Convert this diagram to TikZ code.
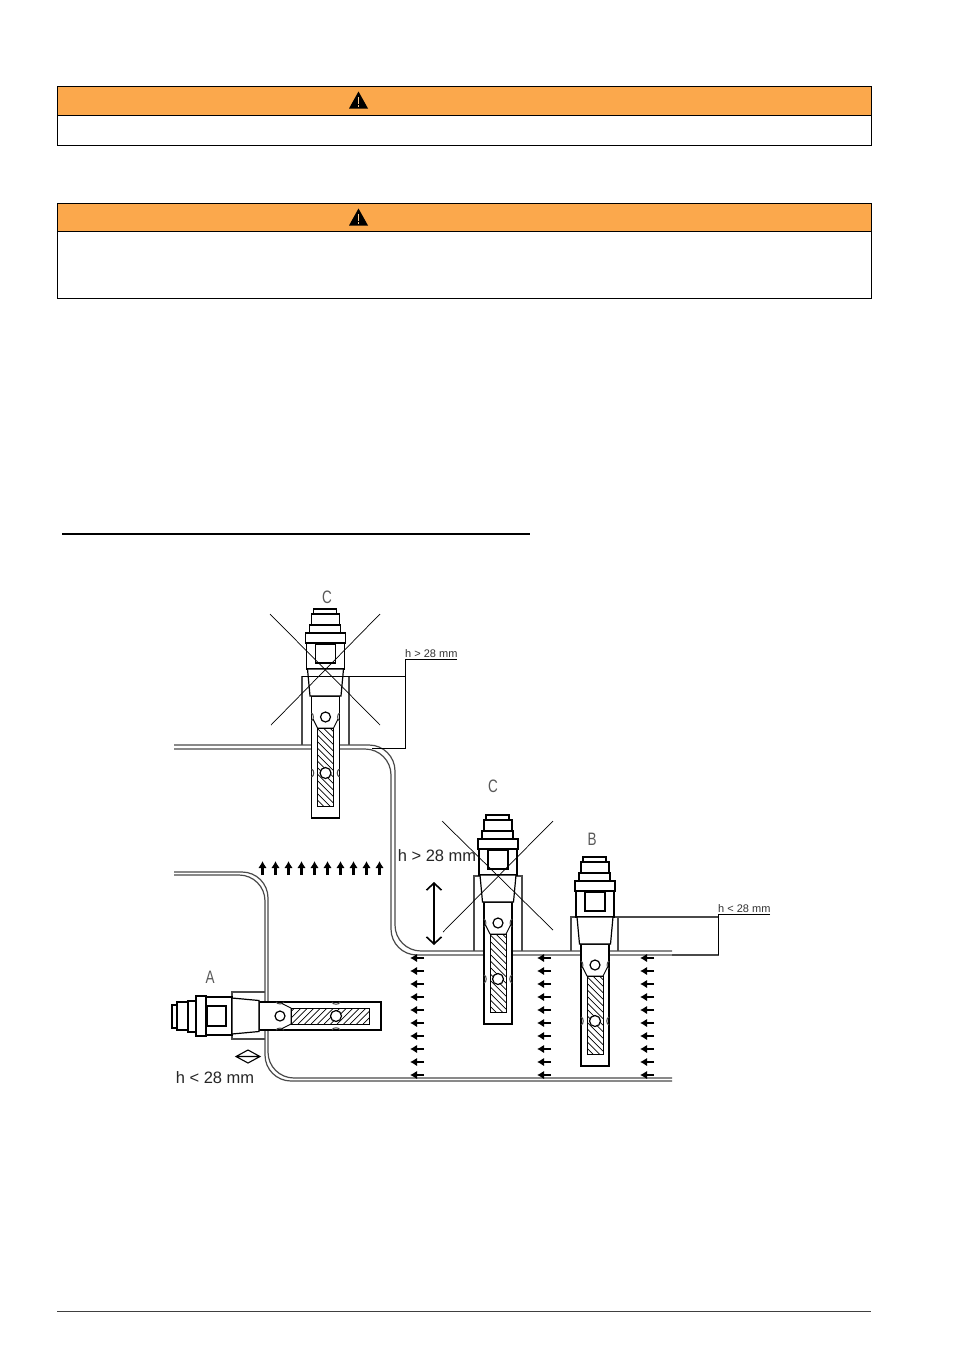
\documentclass[tikz,border=0pt]{standalone}
\usepackage{fontspec}
\setmainfont{Liberation Sans}
\usetikzlibrary{arrows.meta}
\definecolor{warnorange}{HTML}{FBA84C}
\definecolor{linegray}{HTML}{4A4A4A}
\tikzset{
  warnbox/.style={draw=black,line width=1pt},
  warnhead/.style={draw=black,line width=1pt,fill=warnorange},
  pipeline/.style={draw=linegray,line width=1.2pt,rounded corners=26pt},
  part/.style={draw=black,line width=1.2pt,fill=white},
  notch/.style={draw=linegray,line width=1pt},
  flangeline/.style={draw=linegray,line width=1.4pt},
  crossline/.style={draw=black,line width=.7pt},
  dimline/.style={draw=black,line width=.9pt},
  flowarrow/.style={draw=black,line width=2.4pt,-{Latex[length=7pt,width=8.5pt]}},
  biglabel/.style={inner sep=0pt,font=\fontsize{16.5}{19}\selectfont,text=black!85},
  letterlabel/.style={inner sep=0pt,font=\fontsize{18}{20}\selectfont,text=black!65},
  smalllabel/.style={inner sep=0pt,font=\fontsize{11}{13}\selectfont,text=black!80,anchor=base west},
}
\newcommand{\warntri}[2]{%
  \fill[black] (#1-9.5,#2+8.5) -- (#1,#2-8.5) -- (#1+9.5,#2+8.5) -- cycle;
  \fill[warnorange!60!white] (#1-.9,#2-3) rectangle (#1+.9,#2+3.5);
  \fill[warnorange!60!white] (#1-.9,#2+4.8) rectangle (#1+.9,#2+6.6);
}
\newcommand{\probeparts}{%
  \draw[part] (-12,-60) rectangle (11,-55);
  \draw[part] (-14,-55) rectangle (14,-44);
  \draw[part] (-16,-44) rectangle (15,-36);
  \draw[part] (-19,-26) rectangle (19,0);
  \draw[part] (-20,-36) rectangle (20,-26);
  \draw[part] (-10,-25) rectangle (10,-6);
  \draw[part] (-14,27) rectangle (14,149);
  \draw[part] (-18,0) -- (18,0) -- (15.5,27) -- (-15.5,27) -- cycle;
  \draw[notch] (-14,44) .. controls (-11.5,45) and (-11.5,51) .. (-14,52);
  \draw[notch] (14,44) .. controls (11.5,45) and (11.5,51) .. (14,52);
  \draw[notch] (-14,100) .. controls (-11,101) and (-11,107) .. (-14,108);
  \draw[notch] (14,100) .. controls (11,101) and (11,107) .. (14,108);
  \draw[black,line width=.9pt] (-12.5,50) -- (-8,59) -- (8,59) -- (12.5,50);
  \begin{scope}
    \clip (-8,59) rectangle (8,137);
    \foreach \k in {40,46.5,...,140} {\draw[black,line width=.7pt] (-8,\k) -- (8,\k+16);}
  \end{scope}
  \draw[black,line width=1pt] (-8,59) rectangle (8,137);
  \draw[part] (0,48) circle [radius=5];
  \draw[part] (0,104) circle [radius=5.5];
}
\begin{document}
\begin{tikzpicture}[x=1pt,y=-1pt]
\useasboundingbox (0,0) rectangle (953,1352);
\fill[white] (0,0) rectangle (953,1352);

% warning boxes
\draw[warnbox] (57,86) rectangle (871,145);
\draw[warnhead] (57,86) rectangle (871,115);
\warntri{358.5}{100}
\draw[warnbox] (57,203) rectangle (871,298);
\draw[warnhead] (57,203) rectangle (871,231.5);
\warntri{358.5}{217}

% heading rule and footer rule
\draw[black,line width=1.5pt] (62,534) -- (530,534);
\draw[black!75,line width=.8pt] (57,1311) -- (871,1311);

% pipes
\draw[pipeline] (174,745) -- (395,745) -- (395,951) -- (672,951);
\draw[pipeline] (174,749) -- (391,749) -- (391,955) -- (672,955);
\draw[pipeline] (174,872) -- (268,872) -- (268,1078) -- (672,1078);
\draw[pipeline] (174,875) -- (265,875) -- (265,1081) -- (672,1081);

% flanges
\draw[flangeline] (302,745) -- (302,676);
\draw[flangeline] (349,676) -- (349,745);
\draw[flangeline] (474,951) -- (474,876) -- (522,876) -- (522,951);
\draw[flangeline] (571,951) -- (571,917) -- (618,917) -- (618,951);
\draw[flangeline] (265,992) -- (232,992) -- (232,1039) -- (265,1039);

% probes
\begin{scope}[shift={(325.5,669)}]\begin{scope}[x=1pt,y=-1pt]\probeparts\end{scope}\end{scope}
\begin{scope}[shift={(498,875)}]\begin{scope}[x=1pt,y=-1pt]\probeparts\end{scope}\end{scope}
\begin{scope}[shift={(595,917)}]\begin{scope}[x=1pt,y=-1pt]\probeparts\end{scope}\end{scope}
\begin{scope}[shift={(232,1016)}]\begin{scope}[x={(0pt,1pt)},y={(1pt,0pt)}]\probeparts\end{scope}\end{scope}

% crossing-out lines
\draw[crossline] (270,614) -- (380,725);
\draw[crossline] (380,614) -- (271,725);
\draw[crossline] (442,821) -- (553,930);
\draw[crossline] (553,821) -- (443,932);

% dimensions
\draw[dimline] (302,676) -- (406,676);
\draw[dimline] (372,748) -- (406,748);
\draw[dimline] (457,659) -- (405,659) -- (405,749);
\draw[flangeline] (618,917) -- (719,917);
\draw[flangeline] (672,955) -- (719,955);
\draw[dimline] (770,914) -- (718,914) -- (718,955);

% flow arrows
\foreach \ax in {262.5,275.5,...,380} {\draw[flowarrow] (\ax,875) -- (\ax,861);}
\foreach \cx in {424,551,654} {
  \foreach \ry in {958,971,...,1075} {\draw[flowarrow] (\cx,\ry) -- (\cx-14,\ry);}
}

% height arrow
\coordinate (hup) at (434,882);
\coordinate (hdown) at (434,945);
\draw[black,line width=1.6pt,{Straight Barb[length=7pt,width=15pt]}-{Straight Barb[length=7pt,width=15pt]}] (hup) -- (hdown);

% small diamond
\coordinate (dl) at (236,1056.5);
\coordinate (dt) at (248,1050);
\coordinate (dr) at (260,1056.5);
\coordinate (db) at (248,1063);
\draw[black,line width=1.1pt] (dl) -- (dt) -- (dr) -- (db) -- cycle (dl) -- (dr);

% labels
\node[letterlabel,xscale=.75] (lc1) at (327,597) {C};
\node[letterlabel,xscale=.75] (lc2) at (493,786) {C};
\node[letterlabel,xscale=.75] (lb) at (592,839) {B};
\node[letterlabel,xscale=.75] (la) at (210,977) {A};
\node[biglabel] (hgt) at (437,856) {h > 28 mm};
\node[biglabel] (hlt) at (215,1078) {h < 28 mm};
\node[smalllabel] (sgt) at (405,657.5) {h > 28 mm};
\node[smalllabel] (slt) at (718,912.5) {h < 28 mm};
\end{tikzpicture}
\end{document}
